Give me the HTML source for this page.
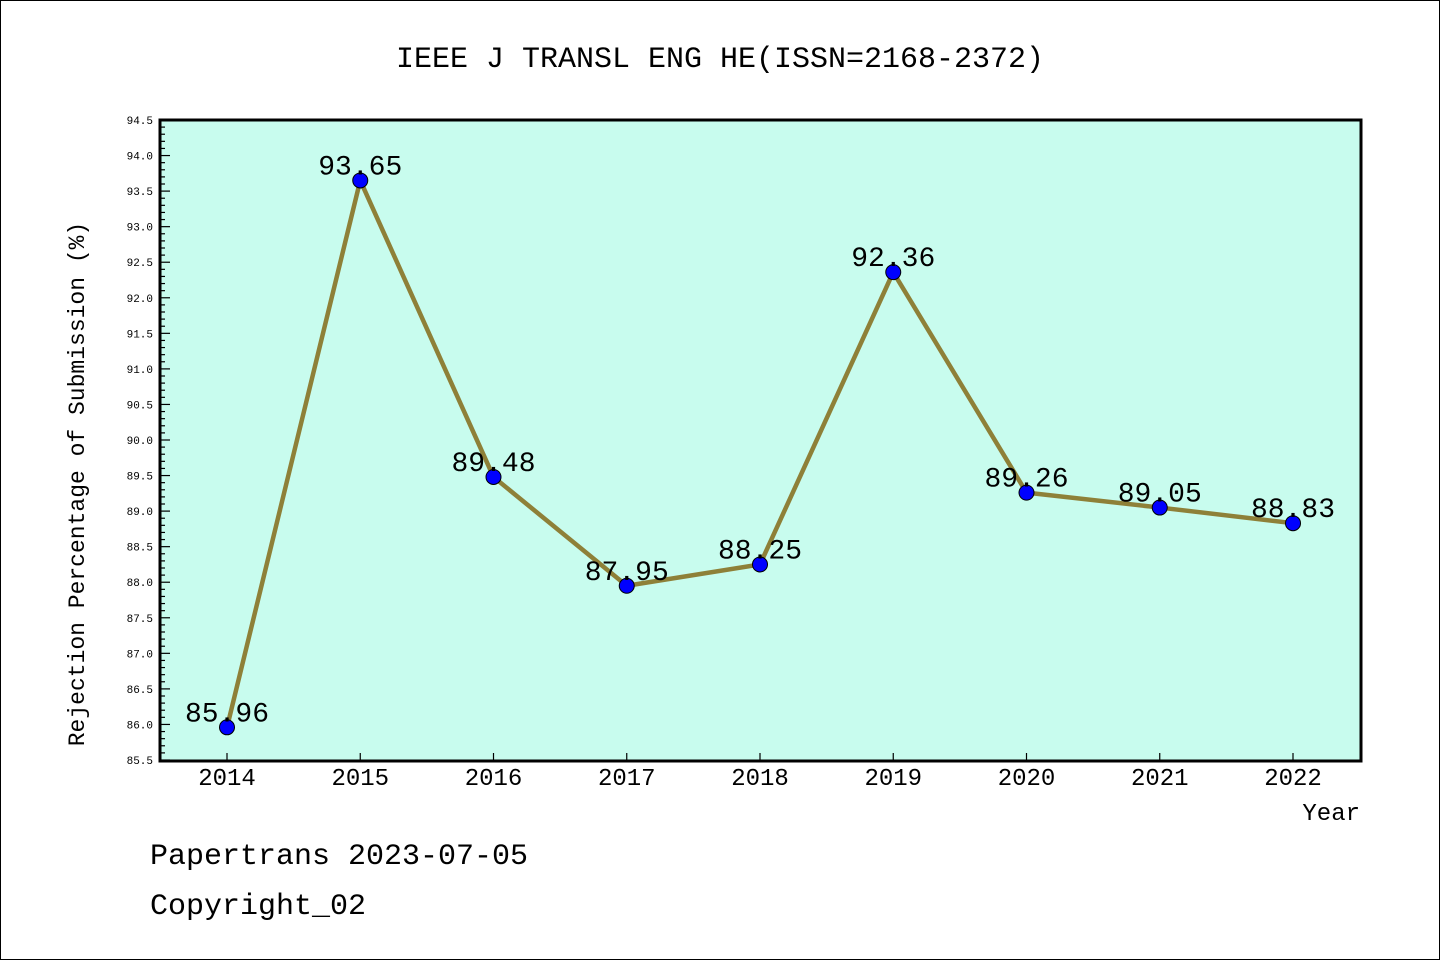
<!DOCTYPE html>
<html><head><meta charset="utf-8"><style>
body{margin:0;background:#fff;}
svg text{font-family:"Liberation Mono","DejaVu Sans Mono",monospace;}
</style></head><body>
<svg width="1440" height="960" xmlns="http://www.w3.org/2000/svg">
<rect x="0.5" y="0.5" width="1439" height="959" fill="#fff" stroke="#000"/>
<text x="720" y="67" text-anchor="middle" font-size="30">IEEE J TRANSL ENG HE(ISSN=2168-2372)</text>
<rect x="160" y="120" width="1201" height="641" fill="#c8fcee"/>
<g id="ticks"></g>
<g id="marks"></g>
<rect x="160" y="120" width="1201" height="641" fill="none" stroke="#000" stroke-width="3"/>
<text transform="translate(84,484) rotate(-90)" text-anchor="middle" font-size="23">Rejection Percentage of Submission (%)</text>
<text x="1360" y="820" text-anchor="end" font-size="24">Year</text>
<text x="150" y="864" font-size="30">Papertrans 2023-07-05</text>
<text x="150" y="914" font-size="30">Copyright_02</text>
</svg>
<script>
const years=[2014,2015,2016,2017,2018,2019,2020,2021,2022];
const values=[85.96,93.65,89.48,87.95,88.25,92.36,89.26,89.05,88.83];
const labels=["85.96","93.65","89.48","87.95","88.25","92.36","89.26","89.05","88.83"];
const yMin=85.5,yMax=94.5;
const NS="http://www.w3.org/2000/svg";
function xs(i){return 227+i*133.25;}
function ys(v){return 760-(v-yMin)/(yMax-yMin)*640;}
function mk(t,a,p){const e=document.createElementNS(NS,t);for(const k in a)e.setAttribute(k,a[k]);p.appendChild(e);return e;}
const tg=document.getElementById('ticks'),mg=document.getElementById('marks');
for(let k=0;k<=90;k++){const v=yMin+k*0.1,y=ys(v),maj=k%5===0;
const l=mk('line',{x1:160,x2:maj?170:165,y1:y,y2:y,stroke:'#000','stroke-width':1.2},tg);


if(maj){const t=mk('text',{x:153,y:y+4,'text-anchor':'end','font-size':11},tg);t.textContent=v.toFixed(1);

}}
years.forEach((yr,i)=>{const x=xs(i);
const l=mk('line',{x1:x,x2:x,y1:760,y2:753,stroke:'#000','stroke-width':1.2},tg);


const t=mk('text',{x:x,y:785,'text-anchor':'middle','font-size':24},tg);t.textContent=yr;

});
const pl=mk('polyline',{points:values.map((v,i)=>xs(i)+','+ys(v)).join(' '),fill:'none',stroke:'#8e8038','stroke-width':4.5},mg);


values.forEach((v,i)=>{const c=mk('circle',{cx:xs(i),cy:ys(v),r:7.5,fill:'#0000ff',stroke:'#000','stroke-width':1},mg);


const t=mk('text',{x:xs(i),y:ys(v)-6,'text-anchor':'middle','font-size':28},mg);t.textContent=labels[i];

});
</script>
</body></html>
